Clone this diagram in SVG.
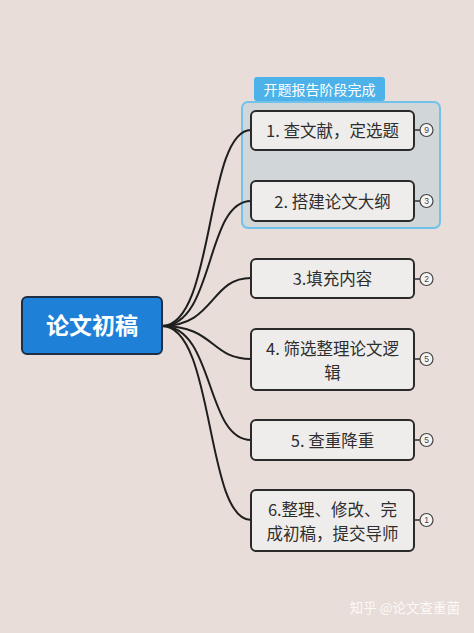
<svg xmlns="http://www.w3.org/2000/svg" width="474" height="633" viewBox="0 0 474 633">
<style>
.node rect.box{fill:#efedec;stroke:#2a2a2a;stroke-width:2}
.t{font-family:"Noto Sans CJK SC","Noto Sans",sans-serif;font-size:16.5px;fill:#2e2e2e;text-anchor:middle}
.badge circle{fill:#f7f5f4;stroke:#444;stroke-width:1.2}
.badge text{font-family:"Liberation Sans",sans-serif;font-size:8.5px;fill:#444;text-anchor:middle}
.badge line{stroke:#333;stroke-width:1.5}
#connectors path{fill:none;stroke:#1e1e1e;stroke-width:2}
</style>
<rect width="474" height="633" fill="#e8ddd8"/>
<g id="group-box">
<rect x="242" y="102" width="198" height="126" rx="6" fill="#c9d3da" fill-opacity="0.75" stroke="#72c1ea" stroke-width="2"/>
<rect x="254" y="77" width="131" height="24" rx="3" fill="#4cb2e9"/>
<text x="319.5" y="94.5" font-family="Noto Sans CJK SC,sans-serif" font-size="14" fill="#ffffff" text-anchor="middle">开题报告阶段完成</text>
</g>
<g id="connectors">
<path d="M162 326 C 215 326, 205 130, 251 130"/>
<path d="M162 326 C 215 326, 205 201, 251 201"/>
<path d="M162 326 C 215 326, 210 278, 251 278"/>
<path d="M162 326 C 215 326, 210 359, 251 359"/>
<path d="M162 326 C 215 326, 205 440, 251 440"/>
<path d="M162 326 C 215 326, 205 520, 251 520"/>
</g>
<g id="root">
<rect x="22" y="297" width="140" height="57" rx="5" fill="#1f80d8" stroke="#1c2f44" stroke-width="2"/>
<text x="92" y="334" font-family="Noto Sans CJK SC,sans-serif" font-size="23" font-weight="bold" fill="#ffffff" text-anchor="middle">论文初稿</text>
</g>
<g id="n1" class="node">
<rect class="box" x="251" y="111" width="163" height="39" rx="5"/>
<text class="t" x="332.5" y="136.5">1. 查文献，定选题</text>
<g class="badge"><line x1="414" y1="130" x2="420" y2="130"/><circle cx="426.5" cy="130" r="6.5"/><text x="426.5" y="133">9</text></g>
</g>
<g id="n2" class="node">
<rect class="box" x="251" y="181" width="163" height="40" rx="5"/>
<text class="t" x="332.5" y="207.5">2. 搭建论文大纲</text>
<g class="badge"><line x1="414" y1="201" x2="420" y2="201"/><circle cx="426.5" cy="201" r="6.5"/><text x="426.5" y="204">3</text></g>
</g>
<g id="n3" class="node">
<rect class="box" x="251" y="259" width="163" height="39" rx="5"/>
<text class="t" x="332.5" y="284.5">3.填充内容</text>
<g class="badge"><line x1="414" y1="279" x2="420" y2="279"/><circle cx="426.5" cy="279" r="6.5"/><text x="426.5" y="282">2</text></g>
</g>
<g id="n4" class="node">
<rect class="box" x="251" y="329" width="163" height="61" rx="5"/>
<text class="t" x="332.5" y="355">4. 筛选整理论文逻</text>
<text class="t" x="332.5" y="379">辑</text>
<g class="badge"><line x1="414" y1="359" x2="420" y2="359"/><circle cx="426.5" cy="359" r="6.5"/><text x="426.5" y="362">5</text></g>
</g>
<g id="n5" class="node">
<rect class="box" x="251" y="420" width="163" height="40" rx="5"/>
<text class="t" x="332.5" y="446.5">5. 查重降重</text>
<g class="badge"><line x1="414" y1="440" x2="420" y2="440"/><circle cx="426.5" cy="440" r="6.5"/><text x="426.5" y="443">5</text></g>
</g>
<g id="n6" class="node">
<rect class="box" x="251" y="490" width="163" height="61" rx="5"/>
<text class="t" x="332.5" y="516">6.整理、修改、完</text>
<text class="t" x="332.5" y="540">成初稿，提交导师</text>
<g class="badge"><line x1="414" y1="520" x2="420" y2="520"/><circle cx="426.5" cy="520" r="6.5"/><text x="426.5" y="523">1</text></g>
</g>
<text x="460" y="613" font-family="Noto Sans CJK SC,sans-serif" font-size="13.5" fill="#ffffff" fill-opacity="0.85" text-anchor="end">知乎 @论文查重菌</text>
</svg>
